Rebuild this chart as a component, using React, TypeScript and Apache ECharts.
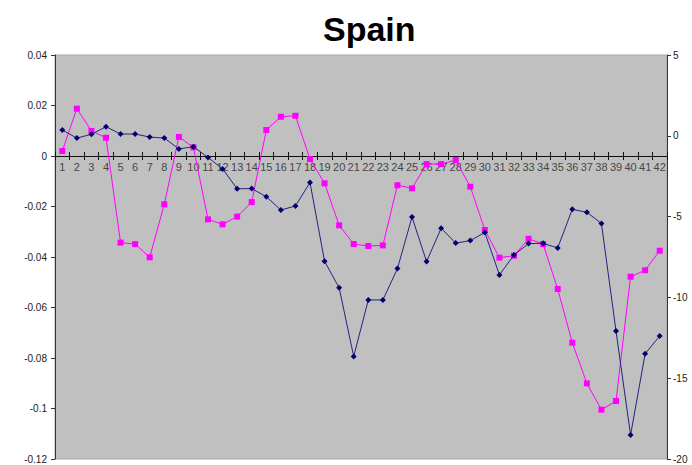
import React, { useEffect, useRef } from "react";
import * as echarts from "echarts";

const categories: string[] = Array.from({ length: 42 }, (_, i) => String(i + 1));

const blueSeries: number[] = [
  0.0103, 0.0071, 0.0086, 0.0116, 0.0087, 0.0087, 0.0075, 0.0071, 0.0028, 0.0037,
  -0.0006, -0.0051, -0.013, -0.0129, -0.0161, -0.0214, -0.0198, -0.0105, -0.0417, -0.0522,
  -0.0794, -0.057, -0.057, -0.0446, -0.0242, -0.0418, -0.0286, -0.0345, -0.0335, -0.0303,
  -0.0471, -0.0392, -0.0347, -0.0346, -0.0364, -0.0211, -0.0223, -0.0267, -0.0693, -0.1105,
  -0.0783, -0.0713,
];

const magentaSeries: number[] = [
  -0.94, 1.68, 0.3, -0.12, -6.61, -6.7, -7.52, -4.24, -0.07, -0.71,
  -5.17, -5.48, -5.0, -4.1, 0.36, 1.18, 1.24, -1.44, -2.94, -5.54,
  -6.7, -6.82, -6.78, -3.06, -3.25, -1.75, -1.75, -1.5, -3.15, -5.83,
  -7.54, -7.42, -6.37, -6.7, -9.48, -12.8, -15.32, -16.95, -16.41, -8.72,
  -8.32, -7.11,
];

const titleText = "Spain";

export default function App() {
  const ref = useRef<HTMLDivElement>(null);
  useEffect(() => {
    if (!ref.current) return;
    const chart = echarts.init(ref.current, undefined, { renderer: "svg" });
    const fontFamily = "Liberation Sans, Arial, sans-serif";
    const labelStyle = { color: "#222", fontSize: 10, fontFamily };
    chart.setOption({
      animation: false,
      backgroundColor: "#ffffff",
      title: {
        text: titleText,
        left: 318,
        top: 7,
        textStyle: { fontSize: 34, fontWeight: "bold", color: "#000", fontFamily },
      },
      grid: {
        left: 55,
        right: 25,
        top: 55,
        bottom: 6,
        show: true,
        backgroundColor: "#c0c0c0",
        borderColor: "#a8a8a8",
        borderWidth: 1,
      },
      xAxis: [
        {
          type: "category",
          data: categories,
          boundaryGap: true,
          axisLine: { onZero: true, onZeroAxisIndex: 0, lineStyle: { color: "#111", width: 1 } },
          axisTick: { show: true, length: 4, interval: 0, lineStyle: { color: "#111" } },
          axisLabel: { show: false },
          splitLine: { show: false },
        },
        {
          type: "category",
          data: categories,
          boundaryGap: true,
          position: "bottom",
          axisLine: { onZero: true, onZeroAxisIndex: 0, show: false },
          axisTick: { show: true, inside: true, length: 4, interval: 0, lineStyle: { color: "#111" } },
          axisLabel: { show: false },
          splitLine: { show: false },
        },
      ],
      yAxis: [
        {
          type: "value",
          min: -0.12,
          max: 0.04,
          interval: 0.02,
          position: "left",
          axisLine: { show: true, onZero: false, lineStyle: { color: "#333" } },
          axisTick: { show: true, length: 4, lineStyle: { color: "#333" } },
          axisLabel: { ...labelStyle, margin: 8 },
          splitLine: { show: false },
        },
        {
          type: "value",
          min: -20,
          max: 5,
          interval: 5,
          position: "right",
          axisLine: { show: true, onZero: false, lineStyle: { color: "#333" } },
          axisTick: { show: true, length: 4, lineStyle: { color: "#333" } },
          axisLabel: { ...labelStyle, margin: 6 },
          splitLine: { show: false },
        },
      ],
      series: [
        {
          type: "scatter",
          name: "labels",
          data: categories.map(() => 0),
          xAxisIndex: 0,
          yAxisIndex: 0,
          symbolSize: 1,
          itemStyle: { color: "rgba(0,0,0,0)" },
          label: {
            show: true,
            position: "bottom",
            distance: 5,
            formatter: (p: any) => p.name,
            ...labelStyle,
            fontSize: 11,
          },
          silent: true,
          z: 1,
        },
        {
          type: "line",
          name: "A",
          data: blueSeries,
          xAxisIndex: 0,
          yAxisIndex: 0,
          symbol: "diamond",
          symbolSize: 6,
          lineStyle: { color: "#23237f", width: 1 },
          itemStyle: { color: "#000070" },
          z: 3,
        },
        {
          type: "line",
          name: "B",
          data: magentaSeries,
          xAxisIndex: 0,
          yAxisIndex: 1,
          symbol: "rect",
          symbolSize: 6,
          lineStyle: { color: "#ff00ff", width: 1 },
          itemStyle: { color: "#ff00ff" },
          z: 2,
        },
      ],
    });
    return () => chart.dispose();
  }, []);
  return (
    <div
      ref={ref}
      style={{ position: "fixed", left: 0, top: 0, width: 692, height: 465 }}
    />
  );
}
